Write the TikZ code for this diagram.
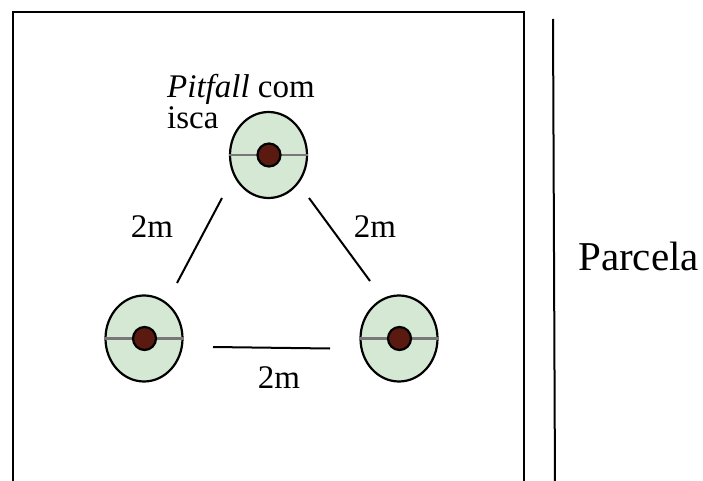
\documentclass[tikz,border=0pt]{standalone}
\usepackage{fontspec}
\setmainfont{Liberation Serif}
\usetikzlibrary{shapes.geometric}
\definecolor{trapfill}{HTML}{D5E8D4}
\definecolor{baitcol}{HTML}{5A1A10}
\definecolor{rimgray}{HTML}{787878}
\begin{document}
\begin{tikzpicture}[x=1pt,y=-1pt,
  trap/.style={ellipse, draw=black, line width=2.2pt, fill=trapfill, minimum width=77pt, minimum height=86pt, inner sep=0pt},
  bait/.style={circle, draw=black, line width=2.2pt, fill=baitcol, minimum size=23pt, inner sep=0pt},
  dist/.style={font=\fontsize{33}{40}\selectfont, inner sep=0pt},
  link/.style={line width=2pt}]
\useasboundingbox (0,0) rectangle (703,481);
% plot outline
\draw[line width=2.5pt] (13,490) -- (13,12) -- (524,12) -- (524,490);
\draw[line width=2pt] (553,19) -- (555,490);
\node[font=\fontsize{41}{48}\selectfont, inner sep=0pt, anchor=base west] (parcela) at (578,270) {Parcela};
% traps
\foreach \n/\x/\y in {t/268.5/155, l/144/338.5, r/399/338.5}{
  \node[trap] (\n) at (\x,\y) {};
  \draw[rimgray, line width=2.4pt] (\n.west) -- (\n.east);
  \node[bait] (\n b) at (\x+0.5,\y) {};
}
% distance lines
\coordinate (a1) at (222,198); \coordinate (a2) at (177,283);
\coordinate (b1) at (309,198); \coordinate (b2) at (370,281);
\coordinate (c1) at (213,347); \coordinate (c2) at (330,348.5);
\draw[link] (a1) -- (a2);
\draw[link] (b1) -- (b2);
\draw[link] (c1) -- (c2);
\node[dist, anchor=base] (d1) at (152,237) {2m};
\node[dist, anchor=base] (d2) at (375,237) {2m};
\node[dist, anchor=base] (d3) at (279,388) {2m};
\node[font=\fontsize{33}{31}\selectfont, align=left, inner sep=0pt, anchor=north west] (lab) at (167,74.5) {\textit{Pitfall} com\\isca};
\end{tikzpicture}
\end{document}
